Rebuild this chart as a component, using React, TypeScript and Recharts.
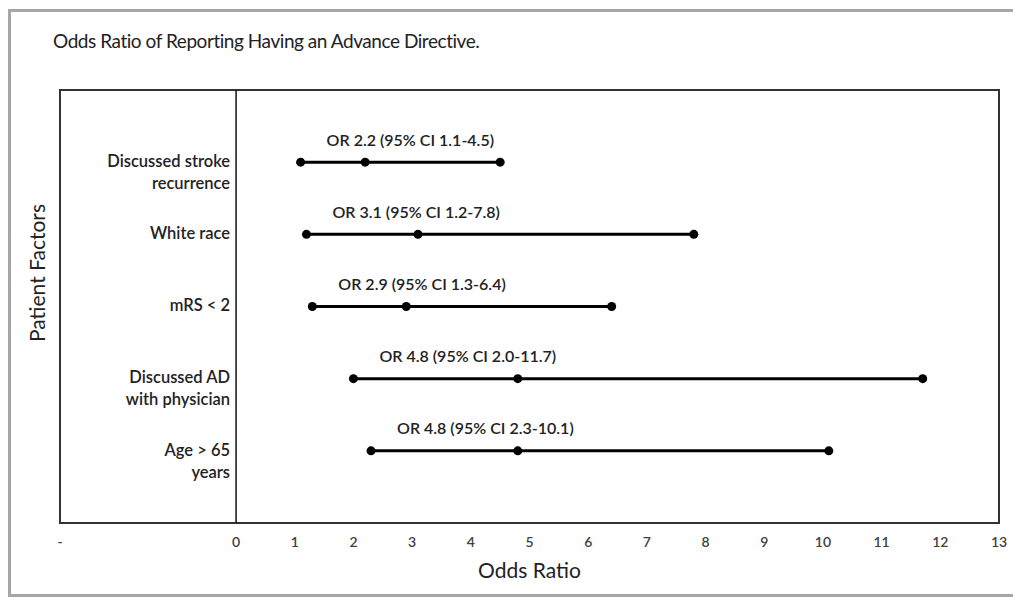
import React from "react";
import {
  ComposedChart,
  Scatter,
  XAxis,
  YAxis,
  ReferenceArea,
  ReferenceLine,
} from "recharts";

// patient factors, top to bottom
const factors = [
  "Discussed stroke\nrecurrence",
  "White race",
  "mRS < 2",
  "Discussed AD\nwith physician",
  "Age > 65\nyears",
];
const oddsRatio = [2.2, 3.1, 2.9, 4.8, 4.8];
const ciLower = [1.1, 1.2, 1.3, 2.0, 2.3];
const ciUpper = [4.5, 7.8, 6.4, 11.7, 10.1];
const xTicks = [-3, 0, 1, 2, 3, 4, 5, 6, 7, 8, 9, 10, 11, 12, 13];

const FONT = "Lato, 'Open Sans', sans-serif";

const rows = factors.map((name, i) => ({
  name,
  points: [
    { x: ciLower[i], y: i + 1 },
    { x: oddsRatio[i], y: i + 1 },
    { x: ciUpper[i], y: i + 1 },
  ],
}));

const factorLabels = factors.map((name, i) => ({ x: 0, y: i + 1, name }));
const orLabels = factors.map((_, i) => ({
  x: ciLower[i],
  y: i + 1,
  text: `OR ${oddsRatio[i].toFixed(1)} (95% CI ${ciLower[i].toFixed(1)}-${ciUpper[i].toFixed(1)})`,
}));

const Dot = (props: any) => (
  <circle cx={props.cx} cy={props.cy} r={4.5} fill="#000" />
);

const FactorText = (props: any) => {
  const lines: string[] = props.payload.name.split("\n");
  return (
    <text
      x={props.cx - 6}
      y={props.cy - 1}
      textAnchor="end"
      fontFamily={FONT}
      fontSize={16.5}
      fontWeight={600}
      fill="#222"
    >
      {lines.map((l, k) => (
        <tspan key={k} x={props.cx - 6} dy={k === 0 ? "0.35em" : 22}>
          {l}
        </tspan>
      ))}
    </text>
  );
};

const OrText = (props: any) => (
  <text
    x={props.cx + 26}
    y={props.cy - 22}
    dy="0.35em"
    fontFamily={FONT}
    fontSize={16}
    fontWeight={600}
    fill="#222"
  >
    {props.payload.text}
  </text>
);

export default function App() {
  return (
    <div
      style={{
        position: "fixed",
        left: 0,
        top: 0,
        width: 1013,
        height: 597,
        overflow: "hidden",
        background: "#fff",
      }}
    >
      <div
        style={{
          position: "absolute",
          left: 8,
          top: 9,
          width: 1020,
          height: 588,
          boxSizing: "border-box",
          borderTop: "3px solid #a6a6a6",
          borderLeft: "3px solid #a6a6a6",
          borderBottom: "3px solid #a6a6a6",
        }}
      />
      <div
        style={{
          position: "absolute",
          left: 53,
          top: 31,
          fontFamily: FONT,
          fontSize: 19,
          letterSpacing: -0.45,
          lineHeight: 1,
          color: "#222",
          whiteSpace: "nowrap",
        }}
      >
        Odds Ratio of Reporting Having an Advance Directive.
      </div>
      <div
        style={{
          position: "absolute",
          left: 36,
          top: 273,
          transform: "translate(-50%, -50%) rotate(-90deg)",
          fontFamily: FONT,
          fontSize: 21,
          lineHeight: 1,
          color: "#222",
          whiteSpace: "nowrap",
        }}
      >
        Patient Factors
      </div>
      <div style={{ position: "absolute", left: 0, top: 0 }}>
        <ComposedChart
          width={1013}
          height={597}
          margin={{ top: 90, right: 14, bottom: 14, left: 60 }}
        >
          <XAxis
            type="number"
            dataKey="x"
            domain={[-3, 13]}
            ticks={xTicks}
            tickFormatter={(v: number) => (v < 0 ? "-" : String(v))}
            axisLine={false}
            tickLine={false}
            tickSize={6}
            tickMargin={8}
            height={60}
            interval={0}
            allowDataOverflow
            tick={{ fontFamily: FONT, fontSize: 14, fontWeight: 600, fill: "#404040" }}
            label={{
              value: "Odds Ratio",
              position: "insideBottom",
              offset: 5,
              style: { fontFamily: FONT, fontSize: 21, fill: "#222" },
            }}
          />
          <YAxis type="number" dataKey="y" domain={[0, 6]} reversed hide />
          <ReferenceArea
            x1={-3}
            x2={13}
            y1={0}
            y2={6}
            fill="none"
            stroke="#333"
            strokeWidth={2}
          />
          <ReferenceLine x={0} stroke="#111" strokeWidth={1.5} />
          {rows.map((r) => (
            <Scatter
              key={r.name}
              data={r.points}
              line={{ stroke: "#000", strokeWidth: 3 }}
              shape={Dot}
              isAnimationActive={false}
            />
          ))}
          <Scatter data={factorLabels} shape={FactorText} isAnimationActive={false} />
          <Scatter data={orLabels} shape={OrText} isAnimationActive={false} />
        </ComposedChart>
      </div>
    </div>
  );
}
